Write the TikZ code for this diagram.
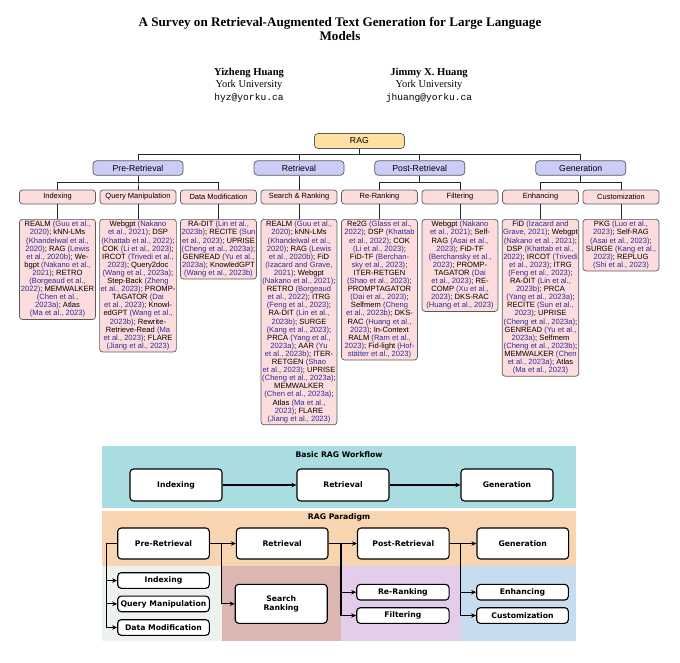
\documentclass[tikz,border=0pt]{standalone}
\usepackage{fontspec}
\setmainfont{Liberation Serif}
\newfontfamily\treefont{Liberation Sans}
\newfontfamily\flowfont{DejaVu Sans}
\newfontfamily\mailfont{Liberation Mono}
\usetikzlibrary{arrows.meta}
\definecolor{ragfill}{HTML}{FFE0A3}
\definecolor{lvfill}{HTML}{CCCCF8}
\definecolor{pkfill}{HTML}{FCDCDC}
\definecolor{boxline}{HTML}{5A5A5A}
\definecolor{citeblue}{HTML}{2E2E9C}
\definecolor{bandteal}{HTML}{A9DDE1}
\definecolor{bandorange}{HTML}{F8D4B1}
\definecolor{bandgray}{HTML}{EEF2EE}
\definecolor{bandrose}{HTML}{DCB6B2}
\definecolor{bandpurple}{HTML}{E3CDEA}
\definecolor{bandblue}{HTML}{C6DDF0}
\newcommand\qc[1]{\textcolor{citeblue}{#1}}
\begin{document}
\begin{tikzpicture}[x=1pt,y=-1pt,
  ragbox/.style={draw=boxline, fill=ragfill, rounded corners=3.5pt, line width=0.7pt, minimum width=90pt, minimum height=15pt, inner sep=0pt, font=\treefont\fontsize{8.7}{10}\selectfont},
  lvbox/.style={draw=boxline, fill=lvfill, rounded corners=3.5pt, line width=0.7pt, minimum width=90pt, minimum height=14.5pt, inner sep=0pt, font=\treefont\fontsize{8.7}{10}\selectfont},
  subbox/.style={draw=boxline, fill=pkfill, rounded corners=3pt, line width=0.7pt, minimum width=76pt, minimum height=14pt, inner sep=0pt, font=\treefont\fontsize{7.5}{9}\selectfont},
  leafbox/.style={draw=boxline, fill=pkfill, rounded corners=3pt, line width=0.7pt, minimum width=76pt, inner xsep=1pt, inner ysep=2pt, anchor=north, align=center, font=\treefont\fontsize{7.6}{8.1}\selectfont},
  tl/.style={draw=black!85, line width=0.6pt},
  fbox/.style={draw=black, fill=white, line width=1.1pt, rounded corners=3.5pt, inner sep=0pt, align=center, font=\flowfont\bfseries\fontsize{7.7}{9.5}\selectfont},
  fline/.style={line width=1.1pt},
  farr/.style={line width=1.1pt, -{Stealth[length=5pt,width=4.5pt]}},
  bandtitle/.style={font=\flowfont\bfseries\fontsize{7.7}{9.5}\selectfont}
]
\useasboundingbox (0,0) rectangle (680,662);

% ---------- header ----------
\node[anchor=base, font=\bfseries\fontsize{13.1}{15}\selectfont] (title1) at (340,26.7) {A Survey on Retrieval-Augmented Text Generation for Large Language};
\node[anchor=base, font=\bfseries\fontsize{13.1}{15}\selectfont] (title2) at (340,40.3) {Models};
\node[anchor=base, font=\bfseries\fontsize{10.6}{12}\selectfont] (a1name) at (249,75) {Yizheng Huang};
\node[anchor=base, font=\fontsize{10.4}{12}\selectfont] (a1uni) at (249,87.3) {York University};
\node[anchor=base, font=\mailfont\fontsize{9.6}{11}\selectfont] (a1mail) at (249,100) {hyz@yorku.ca};
\node[anchor=base, font=\bfseries\fontsize{10.6}{12}\selectfont] (a2name) at (429,75) {Jimmy X. Huang};
\node[anchor=base, font=\fontsize{10.4}{12}\selectfont] (a2uni) at (429,87.3) {York University};
\node[anchor=base, font=\mailfont\fontsize{9.6}{11}\selectfont] (a2mail) at (429,100) {jhuang@yorku.ca};

% ---------- taxonomy tree ----------
\node[ragbox] (rag) at (359.4,141) {RAG};
\node[lvbox] (pre) at (138,168) {Pre-Retrieval};
\node[lvbox] (ret) at (299,168) {Retrieval};
\node[lvbox] (post) at (419.75,168) {Post-Retrieval};
\node[lvbox] (gen) at (580.75,168) {Generation};

\node[subbox] (idx) at (57.5,197) {Indexing};
\node[subbox] (qm) at (138,197) {Query Manipulation};
\node[subbox] (dm) at (218.5,197) {Data Modification};
\node[subbox] (sr) at (299,197) {Search \& Ranking};
\node[subbox] (rr) at (379.5,197) {Re-Ranking};
\node[subbox] (fi) at (460,197) {Filtering};
\node[subbox] (en) at (540.5,197) {Enhancing};
\node[subbox] (cu) at (621,197) {Customization};

\foreach \c in {pre,ret,post,gen} \draw[tl] (rag.south) -- ++(0,5) -| (\c.north);
\foreach \c in {idx,qm,dm} \draw[tl] (pre.south) -- ++(0,6.5) -| (\c.north);
\draw[tl] (ret.south) -- (sr.north);
\foreach \c in {rr,fi} \draw[tl] (post.south) -- ++(0,6.5) -| (\c.north);
\foreach \c in {en,cu} \draw[tl] (gen.south) -- ++(0,6.5) -| (\c.north);

\node[leafbox] (lidx) at (57.5,219) {REALM \qc{(Guu et al.,}\\
\qc{2020)}; kNN-LMs\\
\qc{(Khandelwal et al.,}\\
\qc{2020)}; RAG \qc{(Lewis}\\
\qc{et al., 2020b)}; We-\\
bgpt \qc{(Nakano et al.,}\\
\qc{2021)}; RETRO\\
\qc{(Borgeaud et al.,}\\
\qc{2022)}; MEMWALKER\\
\qc{(Chen et al.,}\\
\qc{2023a)}; Atlas\\
\qc{(Ma et al., 2023)}};

\node[leafbox] (lqm) at (138,219) {Webgpt \qc{(Nakano}\\
\qc{et al., 2021)}; DSP\\
\qc{(Khattab et al., 2022)};\\
COK \qc{(Li et al., 2023)};\\
IRCOT \qc{(Trivedi et al.,}\\
\qc{2023)}; Query2doc\\
\qc{(Wang et al., 2023a)};\\
Step-Back \qc{(Zheng}\\
\qc{et al., 2023)}; PROMP-\\
TAGATOR \qc{(Dai}\\
\qc{et al., 2023)}; Knowl-\\
edGPT \qc{(Wang et al.,}\\
\qc{2023b)}; Rewrite-\\
Retrieve-Read \qc{(Ma}\\
\qc{et al., 2023)}; FLARE\\
\qc{(Jiang et al., 2023)}};

\node[leafbox] (ldm) at (218.5,219) {RA-DIT \qc{(Lin et al.,}\\
\qc{2023b)}; RECITE \qc{(Sun}\\
\qc{et al., 2023)}; UPRISE\\
\qc{(Cheng et al., 2023a)};\\
GENREAD \qc{(Yu et al.,}\\
\qc{2023a)}; KnowledGPT\\
\qc{(Wang et al., 2023b)}};

\node[leafbox] (lsr) at (299,219) {REALM \qc{(Guu et al.,}\\
\qc{2020)}; kNN-LMs\\
\qc{(Khandelwal et al.,}\\
\qc{2020)}; RAG \qc{(Lewis}\\
\qc{et al., 2020b)}; FiD\\
\qc{(Izacard and Grave,}\\
\qc{2021)}; Webgpt\\
\qc{(Nakano et al., 2021)};\\
RETRO \qc{(Borgeaud}\\
\qc{et al., 2022)}; ITRG\\
\qc{(Feng et al., 2023)};\\
RA-DIT \qc{(Lin et al.,}\\
\qc{2023b)}; SURGE\\
\qc{(Kang et al., 2023)};\\
PRCA \qc{(Yang et al.,}\\
\qc{2023a)}; AAR \qc{(Yu}\\
\qc{et al., 2023b)}; ITER-\\
RETGEN \qc{(Shao}\\
\qc{et al., 2023)}; UPRISE\\
\qc{(Cheng et al., 2023a)};\\
MEMWALKER\\
\qc{(Chen et al., 2023a)};\\
Atlas \qc{(Ma et al.,}\\
\qc{2023)}; FLARE\\
\qc{(Jiang et al., 2023)}};

\node[leafbox] (lrr) at (379.5,219) {Re2G \qc{(Glass et al.,}\\
\qc{2022)}; DSP \qc{(Khattab}\\
\qc{et al., 2022)}; COK\\
\qc{(Li et al., 2023)};\\
FiD-TF \qc{(Berchan-}\\
\qc{sky et al., 2023)};\\
ITER-RETGEN\\
\qc{(Shao et al., 2023)};\\
PROMPTAGATOR\\
\qc{(Dai et al., 2023)};\\
Selfmem \qc{(Cheng}\\
\qc{et al., 2023b)}; DKS-\\
RAC \qc{(Huang et al.,}\\
\qc{2023)}; In-Context\\
RALM \qc{(Ram et al.,}\\
\qc{2023)}; Fid-light \qc{(Hof-}\\
\qc{stätter et al., 2023)}};

\node[leafbox] (lfi) at (460,219) {Webgpt \qc{(Nakano}\\
\qc{et al., 2021)}; Self-\\
RAG \qc{(Asai et al.,}\\
\qc{2023)}; FiD-TF\\
\qc{(Berchansky et al.,}\\
\qc{2023)}; PROMP-\\
TAGATOR \qc{(Dai}\\
\qc{et al., 2023)}; RE-\\
COMP \qc{(Xu et al.,}\\
\qc{2023)}; DKS-RAC\\
\qc{(Huang et al., 2023)}};

\node[leafbox] (len) at (540.5,219) {FiD \qc{(Izacard and}\\
\qc{Grave, 2021)}; Webgpt\\
\qc{(Nakano et al., 2021)};\\
DSP \qc{(Khattab et al.,}\\
\qc{2022)}; IRCOT \qc{(Trivedi}\\
\qc{et al., 2023)}; ITRG\\
\qc{(Feng et al., 2023)};\\
RA-DIT \qc{(Lin et al.,}\\
\qc{2023b)}; PRCA\\
\qc{(Yang et al., 2023a)};\\
RECITE \qc{(Sun et al.,}\\
\qc{2023)}; UPRISE\\
\qc{(Cheng et al., 2023a)};\\
GENREAD \qc{(Yu et al.,}\\
\qc{2023a)}; Selfmem\\
\qc{(Cheng et al., 2023b)};\\
MEMWALKER \qc{(Chen}\\
\qc{et al., 2023a)}; Atlas\\
\qc{(Ma et al., 2023)}};

\node[leafbox] (lcu) at (621,219) {PKG \qc{(Luo et al.,}\\
\qc{2023)}; Self-RAG\\
\qc{(Asai et al., 2023)};\\
SURGE \qc{(Kang et al.,}\\
\qc{2023)}; REPLUG\\
\qc{(Shi et al., 2023)}};

\foreach \a/\b in {idx/lidx,qm/lqm,dm/ldm,sr/lsr,rr/lrr,fi/lfi,en/len,cu/lcu} \draw[tl] (\a.south) -- (\b.north);

% ---------- workflow figure ----------
\fill[bandteal] (101.7,446) rectangle (576,508.3);
\fill[bandorange] (101.7,510.7) rectangle (576,566);
\fill[bandgray] (101.7,566) rectangle (221.7,641);
\fill[bandrose] (221.7,566) rectangle (341,641);
\fill[bandpurple] (341,566) rectangle (460.7,641);
\fill[bandblue] (460.7,566) rectangle (576,641);

\node[bandtitle] (bt1) at (339,455) {Basic RAG Workflow};
\node[bandtitle] (bt2) at (339,517) {RAG Paradigm};

\node[fbox, minimum width=92pt, minimum height=32pt] (bidx) at (176,485) {Indexing};
\node[fbox, minimum width=92pt, minimum height=32pt] (bret) at (343,485) {Retrieval};
\node[fbox, minimum width=92pt, minimum height=32pt] (bgen) at (507,485) {Generation};
\draw[farr] (bidx.east) -- (bret.west);
\draw[farr] (bret.east) -- (bgen.west);

\node[fbox, minimum width=91.6pt, minimum height=31pt] (fpre) at (163.5,543.5) {Pre-Retrieval};
\node[fbox, minimum width=91.6pt, minimum height=31pt] (fret) at (282.2,543.5) {Retrieval};
\node[fbox, minimum width=91.6pt, minimum height=31pt] (fpost) at (403.3,543.5) {Post-Retrieval};
\node[fbox, minimum width=91.6pt, minimum height=31pt] (fgen) at (522.8,543.5) {Generation};

\node[fbox, minimum width=91.6pt, minimum height=15.6pt] (fidx) at (163.5,580.5) {Indexing};
\node[fbox, minimum width=91.6pt, minimum height=15.6pt] (fqm) at (163.5,603.9) {Query Manipulation};
\node[fbox, minimum width=91.6pt, minimum height=15.6pt] (fdm) at (163.5,627.5) {Data Modification};
\node[fbox, minimum width=92pt, minimum height=39pt] (fsr) at (281.2,603.8) {Search\\Ranking};
\node[fbox, minimum width=92.3pt, minimum height=15.6pt] (frr) at (402.9,592.2) {Re-Ranking};
\node[fbox, minimum width=92.3pt, minimum height=15.6pt] (ffi) at (402.9,615.5) {Filtering};
\node[fbox, minimum width=91.6pt, minimum height=15.6pt] (fen) at (522.5,592.2) {Enhancing};
\node[fbox, minimum width=91.6pt, minimum height=15.6pt] (fcu) at (522.5,615.5) {Customization};

\coordinate (t0) at (106.7,543.5);
\coordinate (b1) at (221.7,543.5);
\coordinate (b2) at (341,543.5);
\coordinate (b3) at (460.7,543.5);

\draw[farr] (fpre.west) -- (t0) |- (fdm.west);
\draw[farr] (t0 |- fidx.west) -- (fidx.west);
\draw[farr] (t0 |- fqm.west) -- (fqm.west);

\draw[farr] (fpre.east) -- (fret.west);
\draw[farr] (b1) |- (fsr.west);

\draw[farr] (fret.east) -- (fpost.west);
\draw[farr] (b2) |- (ffi.west);
\draw[farr] (b2 |- frr.west) -- (frr.west);

\draw[farr] (fpost.east) -- (fgen.west);
\draw[farr] (b3) |- (fcu.west);
\draw[farr] (b3 |- fen.west) -- (fen.west);
\end{tikzpicture}
\end{document}
